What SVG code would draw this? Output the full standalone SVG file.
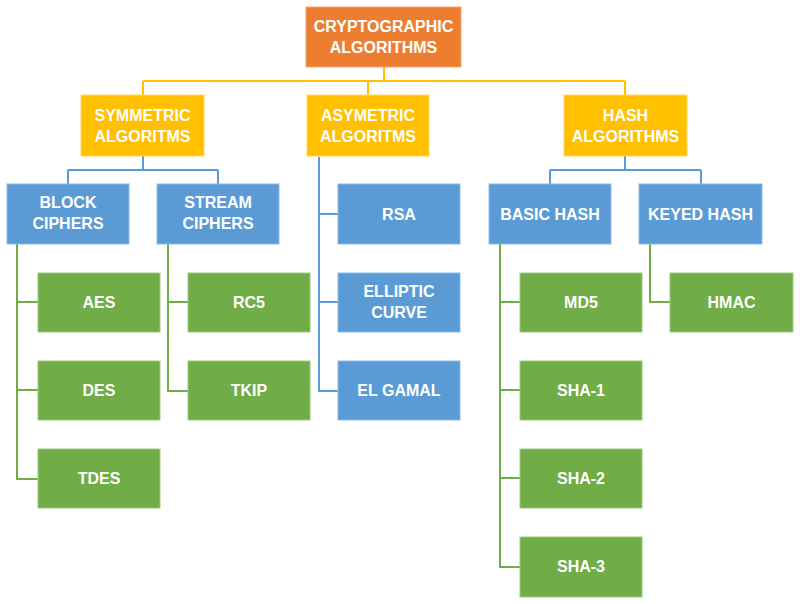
<svg xmlns="http://www.w3.org/2000/svg" width="800" height="604" viewBox="0 0 800 604">
<style>
text{font-family:"Liberation Sans",Arial,sans-serif;font-weight:bold;font-size:16px;fill:#fff;text-anchor:middle}
.o{fill:#ED7D31;stroke:#F4A572;stroke-width:1}
.y{fill:#FFC000;stroke:#FFD766;stroke-width:1}
.b{fill:#5B9BD5;stroke:#8DBAE3;stroke-width:1}
.g{fill:#70AD47;stroke:#9CC97F;stroke-width:1}
.cy{stroke:#FFC000;stroke-width:2;fill:none}
.cb{stroke:#5B9BD5;stroke-width:2;fill:none}
.cg{stroke:#70AD47;stroke-width:2;fill:none}
</style>
<rect width="800" height="604" fill="#fff"/>
<g id="connectors">
<path class="cy" d="M384,67V81M143,81H625M143,81V95M368,81V95M625,81V95"/>
<path class="cb" d="M143,156V170M68,170H218M68,170V184M218,170V184"/>
<path class="cb" d="M319,157V391H338M319,214H338M319,302H338"/>
<path class="cb" d="M625,156V170M550,170H701M550,170V184M701,170V184"/>
<path class="cg" d="M17,244V479H38M17,302H38M17,390H38"/>
<path class="cg" d="M168,244V391H188M168,302H188"/>
<path class="cg" d="M500,244V567H520M500,302H520M500,390H520M500,478H520"/>
<path class="cg" d="M650,244V302H670"/>
</g>
<g id="root"><rect class="o" x="306" y="7" width="155" height="60"/><text x="383.5" y="32">CRYPTOGRAPHIC</text><text x="383.5" y="53">ALGORITHMS</text></g>
<g id="symmetric"><rect class="y" x="81" y="95" width="123" height="61"/><text x="142.5" y="121">SYMMETRIC</text><text x="142.5" y="142">ALGORITMS</text></g>
<g id="asymmetric"><rect class="y" x="307" y="95" width="122" height="61"/><text x="368" y="121">ASYMETRIC</text><text x="368" y="142">ALGORITMS</text></g>
<g id="hash"><rect class="y" x="564" y="95" width="123" height="61"/><text x="625.5" y="121">HASH</text><text x="625.5" y="142">ALGORITHMS</text></g>
<g id="block"><rect class="b" x="7" y="184" width="122" height="60"/><text x="68" y="208">BLOCK</text><text x="68" y="229">CIPHERS</text></g>
<g id="stream"><rect class="b" x="157" y="184" width="122" height="60"/><text x="218" y="208">STREAM</text><text x="218" y="229">CIPHERS</text></g>
<g id="rsa"><rect class="b" x="338" y="184" width="122" height="60"/><text x="399" y="219.5">RSA</text></g>
<g id="elliptic"><rect class="b" x="338" y="273" width="122" height="59"/><text x="399" y="297">ELLIPTIC</text><text x="399" y="318">CURVE</text></g>
<g id="elgamal"><rect class="b" x="338" y="361" width="122" height="59"/><text x="399" y="396">EL GAMAL</text></g>
<g id="basichash"><rect class="b" x="489" y="184" width="122" height="60"/><text x="550" y="219.5">BASIC HASH</text></g>
<g id="keyedhash"><rect class="b" x="639" y="184" width="123" height="60"/><text x="700.5" y="219.5">KEYED HASH</text></g>
<g id="aes"><rect class="g" x="38" y="273" width="122" height="59"/><text x="99" y="308">AES</text></g>
<g id="des"><rect class="g" x="38" y="361" width="122" height="59"/><text x="99" y="396">DES</text></g>
<g id="tdes"><rect class="g" x="38" y="449" width="122" height="59"/><text x="99" y="484">TDES</text></g>
<g id="rc5"><rect class="g" x="188" y="273" width="122" height="59"/><text x="249" y="308">RC5</text></g>
<g id="tkip"><rect class="g" x="188" y="361" width="122" height="59"/><text x="249" y="396">TKIP</text></g>
<g id="md5"><rect class="g" x="520" y="273" width="122" height="59"/><text x="581" y="308">MD5</text></g>
<g id="sha1"><rect class="g" x="520" y="361" width="122" height="59"/><text x="581" y="396">SHA-1</text></g>
<g id="sha2"><rect class="g" x="520" y="449" width="122" height="59"/><text x="581" y="484">SHA-2</text></g>
<g id="sha3"><rect class="g" x="520" y="537" width="122" height="60"/><text x="581" y="572">SHA-3</text></g>
<g id="hmac"><rect class="g" x="670" y="273" width="123" height="59"/><text x="731.5" y="308">HMAC</text></g>
</svg>
